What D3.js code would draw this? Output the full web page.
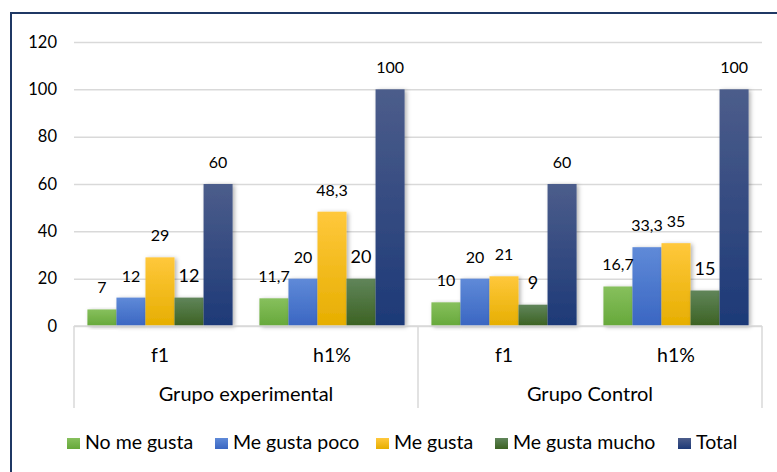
<!DOCTYPE html>
<html>
<head>
<meta charset="utf-8">
<script src="https://cdn.jsdelivr.net/npm/d3@7"></script>
<style>
  html, body { margin: 0; padding: 0; background: #fff; }
  svg text { font-family: Lato, "Open Sans", sans-serif; fill: #000; }
</style>
</head>
<body>
<div id="chart"></div>
<script>
// Data
const groups = ["Grupo experimental", "Grupo Control"];
const measures = ["f1", "h1%"];
const seriesNames = ["No me gusta", "Me gusta poco", "Me gusta", "Me gusta mucho", "Total"];
const noMeGusta = [7, 11.7, 10, 16.7];
const meGustaPoco = [12, 20, 20, 33.3];
const meGusta = [29, 48.3, 21, 35];
const meGustaMucho = [12, 20, 9, 15];
const total = [60, 100, 60, 100];
const yTicks = [0, 20, 40, 60, 80, 100, 120];

const seriesValues = [noMeGusta, meGustaPoco, meGusta, meGustaMucho, total];
const colorTop = ["#87c05d", "#5f8ad8", "#ffc83c", "#60855a", "#4c5d8b"];
const colorBottom = ["#66a83a", "#3a66c2", "#e6ae00", "#3c6222", "#1d3977"];

// categories = every (group, measure) pair
const cats = [];
groups.forEach(g => measures.forEach(m => cats.push(g + "|" + m)));

const width = 777, height = 472;
const margin = {top: 42, right: 15, bottom: 146, left: 74};

const svg = d3.select("#chart").append("svg")
    .attr("width", width)
    .attr("height", height);

const defs = svg.append("defs");
seriesNames.forEach((s, i) => {
    const g = defs.append("linearGradient")
        .attr("id", "grad" + i)
        .attr("x1", 0).attr("y1", 0).attr("x2", 0).attr("y2", 1);
    g.append("stop").attr("offset", "0%").attr("stop-color", colorTop[i]);
    g.append("stop").attr("offset", "100%").attr("stop-color", colorBottom[i]);
});
const shadow = defs.append("filter").attr("id", "shadow")
    .attr("x", "-20%").attr("y", "-10%").attr("width", "150%").attr("height", "130%");
shadow.append("feDropShadow")
    .attr("dx", 2).attr("dy", 1).attr("stdDeviation", 2)
    .attr("flood-color", "#000").attr("flood-opacity", 0.3);

// Frame (cropped at right/bottom)
svg.append("path")
    .attr("d", `M11,${height} L11,13 L${width},13`)
    .attr("fill", "none")
    .attr("stroke", "#1f3864")
    .attr("stroke-width", 2);

// Scales
const x0 = d3.scaleBand()
    .domain(cats)
    .range([margin.left, width - margin.right])
    .padding(0);

const inner = 0.078;
const x1 = d3.scaleBand()
    .domain(seriesNames)
    .range([x0.bandwidth() * inner, x0.bandwidth() * (1 - inner)]);

const y = d3.scaleLinear()
    .domain([0, 120])
    .range([height - margin.bottom, margin.top]);

// Grid lines + y labels
const yAxis = svg.append("g")
    .attr("transform", `translate(${margin.left},0)`)
    .call(d3.axisLeft(y).tickValues(yTicks).tickSize(-(width - margin.right - margin.left)).tickPadding(17));
yAxis.select(".domain").remove();
yAxis.selectAll(".tick line").attr("stroke", "#d9d9d9").attr("stroke-width", 1.5);
yAxis.selectAll(".tick text")
    .style("font-family", "Lato, sans-serif")
    .style("font-size", "16.5px")
    .attr("fill", "#000");

// Bars
const barG = svg.append("g");
seriesNames.forEach((s, si) => {
    barG.append("g")
        .selectAll("rect")
        .data(seriesValues[si])
        .join("rect")
        .attr("x", (d, i) => x0(cats[i]) + x1(s))
        .attr("y", d => y(d))
        .attr("width", x1.bandwidth())
        .attr("height", d => y(0) - y(d))
        .attr("fill", `url(#grad${si})`)
        .attr("filter", "url(#shadow)");
});

// Data labels
seriesNames.forEach((s, si) => {
    svg.append("g")
        .selectAll("text")
        .data(seriesValues[si])
        .join("text")
        .attr("x", (d, i) => x0(cats[i]) + x1(s) + x1.bandwidth() / 2)
        .attr("y", d => y(d) - 16)
        .attr("text-anchor", "middle")
        .style("font-size", si === 3 ? "18px" : "16px")
        .text(d => String(d).replace(".", ","));
});

// Category axis (two levels)
const base = y(0);
const catAxis = svg.append("g").attr("stroke", "#d9d9d9").attr("stroke-width", 1.5);
catAxis.append("line")
    .attr("x1", margin.left).attr("x2", width - margin.right)
    .attr("y1", base).attr("y2", base);
const seps = [margin.left, x0(cats[2]), width - margin.right];
seps.forEach(sx => {
    catAxis.append("line")
        .attr("x1", sx).attr("x2", sx)
        .attr("y1", base).attr("y2", base + 82);
});

svg.append("g")
    .selectAll("text")
    .data(cats)
    .join("text")
    .attr("x", d => x0(d) + x0.bandwidth() / 2)
    .attr("y", base + 36)
    .attr("text-anchor", "middle")
    .style("font-size", "19.5px")
    .text(d => d.split("|")[1]);

svg.append("g")
    .selectAll("text")
    .data(groups)
    .join("text")
    .attr("x", (g, i) => (x0(cats[i * 2]) + x0(cats[i * 2 + 1]) + x0.bandwidth()) / 2)
    .attr("y", base + 75)
    .attr("text-anchor", "middle")
    .style("font-size", "20px")
    .text(d => d);

// Legend
const legendX = [67, 215, 376, 495, 678];
const legend = svg.append("g").attr("transform", "translate(0,438)");
seriesNames.forEach((s, i) => {
    const row = legend.append("g").attr("transform", `translate(${legendX[i]},0)`);
    row.append("rect")
        .attr("width", 13)
        .attr("height", 11)
        .attr("fill", `url(#grad${i})`);
    row.append("text")
        .attr("x", 18)
        .attr("y", 11)
        .style("font-size", "19.5px")
        .text(s);
});
</script>
</body>
</html>
